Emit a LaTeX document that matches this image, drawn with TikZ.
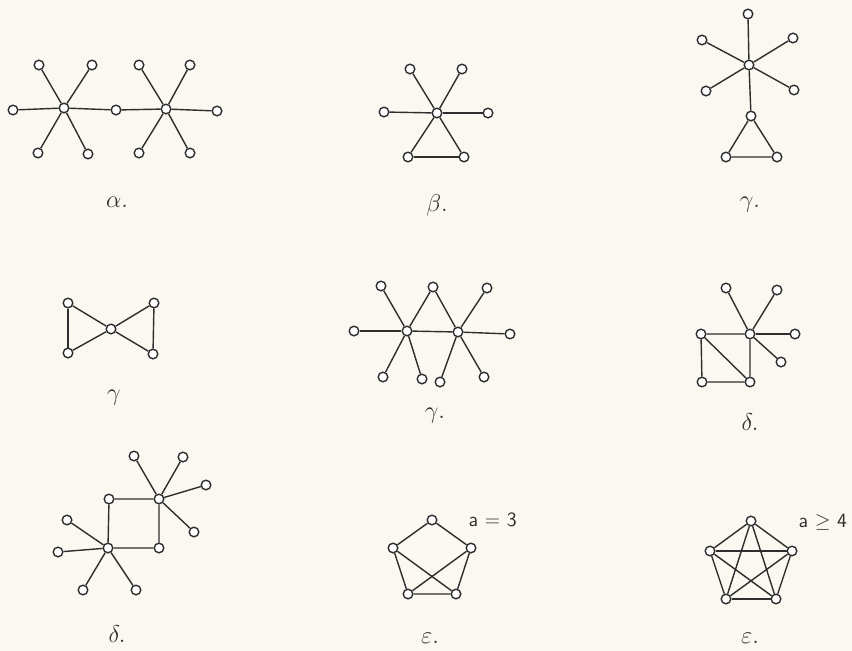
\documentclass[tikz,border=0pt]{standalone}
\usepackage{amsmath,amssymb}
\usepackage{tikz}
\usetikzlibrary{positioning,calc}
\definecolor{ink}{HTML}{2e2e2e}
\definecolor{paper}{HTML}{FAF8F1}
\tikzset{
  vtx/.style={circle,draw=ink,fill=white,line width=1pt,inner sep=0pt,minimum size=2.4mm},
  edge/.style={draw=ink,line width=1pt},
  lbl/.style={text=ink,font=\LARGE},
  note/.style={text=ink,font=\Large\sffamily,inner sep=1pt},
}

\begin{document}
\begin{tikzpicture}[x=0.25mm,y=-0.25mm]
  \fill[paper] (0,0) rectangle (852,651);
  \useasboundingbox (0,0) rectangle (852,651);
  % alpha: two stars joined through a middle vertex
  \node[vtx] (aL) at (64,108) {};
  \node[vtx] (aM) at (116,110) {};
  \node[vtx] (aR) at (166,109) {};
  \draw[edge] (aL) -- (aM) -- (aR);
  \foreach \i/\x/\y in {1/39/65,2/92/65,3/13/110,4/38/153,5/88/154}{
    \node[vtx] (aL\i) at (\x,\y) {};
    \draw[edge] (aL) -- (aL\i);
  }
  \foreach \i/\x/\y in {1/139/65,2/190/65,3/217/111,4/139/153,5/190/153}{
    \node[vtx] (aR\i) at (\x,\y) {};
    \draw[edge] (aR) -- (aR\i);
  }
  \node[lbl] (la) at (117,202) {$\alpha.$};
  % beta: star with a triangle
  \node[vtx] (bC) at (437,113) {};
  \foreach \i/\x/\y in {1/410/69,2/462/69,3/384/112,4/488/113,5/408/157,6/464/157}{
    \node[vtx] (b\i) at (\x,\y) {};
    \draw[edge] (bC) -- (b\i);
  }
  \draw[edge] (b5) -- (b6);
  \node[lbl] (lb) at (437,205) {$\beta.$};
  % gamma: star hanging a triangle
  \node[vtx] (cC) at (749,65) {};
  \foreach \i/\x/\y in {1/748/14,2/702/40,3/793/38,4/706/91,5/794/90,6/751/116}{
    \node[vtx] (c\i) at (\x,\y) {};
    \draw[edge] (cC) -- (c\i);
  }
  \node[vtx] (c7) at (726,157) {};
  \node[vtx] (c8) at (777,157) {};
  \draw[edge] (c6) -- (c7) -- (c8) -- (c6);
  \node[lbl] (lc) at (750,205) {$\gamma.$};
  % gamma: bow tie
  \node[vtx] (dC) at (111,329) {};
  \foreach \i/\x/\y in {1/68/303,2/68/353,3/154/303,4/153/354}{
    \node[vtx] (d\i) at (\x,\y) {};
    \draw[edge] (dC) -- (d\i);
  }
  \draw[edge] (d1) -- (d2);
  \draw[edge] (d3) -- (d4);
  \node[lbl] (ld) at (114,398) {$\gamma$};
  % gamma: two stars sharing a top vertex
  \node[vtx] (eL) at (407,331) {};
  \node[vtx] (eR) at (458,332) {};
  \node[vtx] (eT) at (433,287) {};
  \draw[edge] (eL) -- (eT) -- (eR) -- (eL);
  \foreach \i/\x/\y in {1/381/286,2/354/331,3/383/377,4/422/379}{
    \node[vtx] (eL\i) at (\x,\y) {};
    \draw[edge] (eL) -- (eL\i);
  }
  \foreach \i/\x/\y in {1/487/288,2/510/334,3/440/382,4/484/377}{
    \node[vtx] (eR\i) at (\x,\y) {};
    \draw[edge] (eR) -- (eR\i);
  }
  \node[lbl] (le) at (435,416) {$\gamma.$};
  % delta: split square with a star
  \node[vtx] (fTL) at (701,334) {};
  \node[vtx] (fBL) at (702,382) {};
  \node[vtx] (fBR) at (750,382) {};
  \node[vtx] (fC) at (750,334) {};
  \draw[edge] (fC) -- (fTL) -- (fBL) -- (fBR) -- (fC);
  \draw[edge] (fTL) -- (fBR);
  \foreach \i/\x/\y in {1/726/288,2/777/290,3/795/334,4/781/362}{
    \node[vtx] (f\i) at (\x,\y) {};
    \draw[edge] (fC) -- (f\i);
  }
  \node[lbl] (lf) at (750,422) {$\delta.$};
  % delta: square with two stars
  \node[vtx] (gTL) at (109,499) {};
  \node[vtx] (gTR) at (159,499) {};
  \node[vtx] (gBR) at (159,548) {};
  \node[vtx] (gBL) at (108,548) {};
  \draw[edge] (gTL) -- (gTR) -- (gBR) -- (gBL) -- (gTL);
  \foreach \i/\x/\y in {1/134/456,2/183/457,3/206/485,4/194/532}{
    \node[vtx] (gT\i) at (\x,\y) {};
    \draw[edge] (gTR) -- (gT\i);
  }
  \foreach \i/\x/\y in {1/67/520,2/58/552,3/83/590,4/136/590}{
    \node[vtx] (gB\i) at (\x,\y) {};
    \draw[edge] (gBL) -- (gB\i);
  }
  \node[lbl] (lg) at (117,634) {$\delta.$};
  % epsilon, a = 3
  \node[vtx] (h1) at (432,520) {};
  \node[vtx] (h2) at (393,548) {};
  \node[vtx] (h3) at (408,594) {};
  \node[vtx] (h4) at (456,594) {};
  \node[vtx] (h5) at (471,548) {};
  \draw[edge] (h1) -- (h2) -- (h3) -- (h4) -- (h5) -- (h1);
  \draw[edge] (h2) -- (h4);
  \draw[edge] (h5) -- (h3);
  \node[note,anchor=west] (nh) at (467,520) {a = 3};
  \node[lbl] (lh) at (430,638) {$\varepsilon.$};
  % epsilon, a >= 4: complete graph
  \node[vtx] (k1) at (751,521) {};
  \node[vtx] (k2) at (710,551) {};
  \node[vtx] (k3) at (726,599) {};
  \node[vtx] (k4) at (776,599) {};
  \node[vtx] (k5) at (792,551) {};
  \foreach \u/\v in {1/2,1/3,1/4,1/5,2/3,2/4,2/5,3/4,3/5,4/5}
    \draw[edge] (k\u) -- (k\v);
  \node[note,anchor=west] (nk) at (797,522) {a $\geq$ 4};
  \node[lbl] (lk) at (750,638) {$\varepsilon.$};
\end{tikzpicture}
\end{document}
